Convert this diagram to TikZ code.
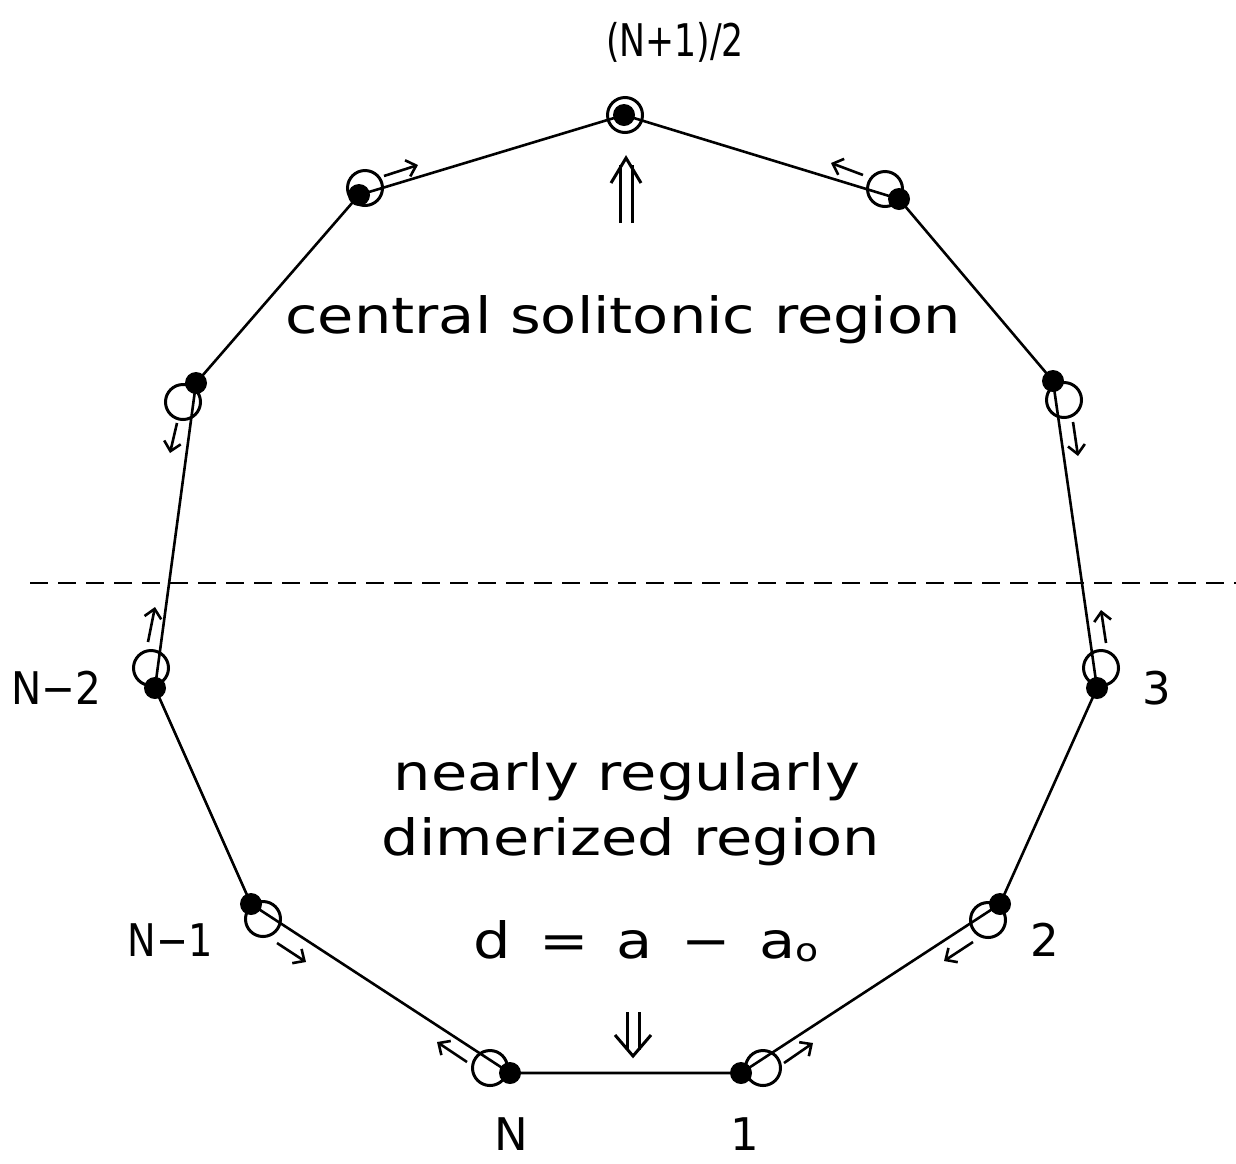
\documentclass[tikz,border=0pt]{standalone}
\usepackage{fontspec}
\setmainfont{DejaVu Sans}
\usetikzlibrary{arrows.meta}
\begin{document}
\begin{tikzpicture}[x=1pt,y=-1pt,
  site/.style={circle,fill=black,inner sep=0pt,minimum size=22pt},
  ring/.style={circle,draw=black,line width=3pt,inner sep=0pt,minimum size=35pt},
  bond/.style={line width=2.6pt},
  disp/.style={line width=2.6pt,-{Straight Barb[length=9pt,width=17pt,line width=2.6pt]}},
  dbl/.style={line width=3pt},
  bigtext/.style={font=\fontsize{50}{60}\selectfont, xscale=1.18, inner sep=0pt, anchor=base},
  lbl/.style={font=\fontsize{45}{52}\selectfont, inner sep=0pt, anchor=base}
]
\useasboundingbox (0,0) rectangle (1236,1163);
% undisplaced positions (regular polygon)
\node[ring] (r0) at (625,115) {};
\node[ring] (r1) at (365,188) {};
\node[ring] (r2) at (183,402) {};
\node[ring] (r3) at (151,668) {};
\node[ring] (r4) at (263,919) {};
\node[ring] (r5) at (490,1068) {};
\node[ring] (r6) at (763,1068) {};
\node[ring] (r7) at (988,920) {};
\node[ring] (r8) at (1101,668) {};
\node[ring] (r9) at (1064,400) {};
\node[ring] (r10) at (885,189) {};
% displaced sites
\coordinate (s0) at (624,115);
\coordinate (s1) at (359,195);
\coordinate (s2) at (196,383);
\coordinate (s3) at (155,688);
\coordinate (s4) at (251,904);
\coordinate (s5) at (510,1073);
\coordinate (s6) at (741,1073);
\coordinate (s7) at (1000,904);
\coordinate (s8) at (1097,688);
\coordinate (s9) at (1053,381);
\coordinate (s10) at (899,199);
\draw[bond] (s0) -- (s1) -- (s2) -- (s3) -- (s4) -- (s5) -- (s6) -- (s7) -- (s8) -- (s9) -- (s10) -- (s0);
\foreach \i in {0,...,10} {\node[site] (d\i) at (s\i) {};}
% displacement arrows
\coordinate (a1) at (384,176); \coordinate (b1) at (418,165);
\coordinate (a2) at (177,423); \coordinate (b2) at (170,453);
\coordinate (a3) at (148,642); \coordinate (b3) at (155,607);
\coordinate (a4) at (277,943); \coordinate (b4) at (306,962);
\coordinate (a5) at (467,1062); \coordinate (b5) at (437,1042);
\coordinate (a6) at (784,1063); \coordinate (b6) at (813,1043);
\coordinate (a7) at (973,942); \coordinate (b7) at (944,961);
\coordinate (a8) at (1106,643); \coordinate (b8) at (1101,610);
\coordinate (a9) at (1073,422); \coordinate (b9) at (1078,456);
\coordinate (a10) at (863,175); \coordinate (b10) at (831,163);
\foreach \i in {1,...,10} {\draw[disp] (a\i) -- (b\i);}
% double arrows
\draw[dbl] (620,223) -- (620,165) (632,223) -- (632,165);
\draw[dbl] (611,183) -- (626,158) -- (641,183);
\draw[dbl] (627,1012) -- (627,1050) (639,1012) -- (639,1050);
\draw[dbl] (615,1035) -- (633,1056) -- (651,1035);
% dashed line
\draw[line width=2pt, dash pattern=on 18pt off 10pt] (30,583) -- (1236,583);
% texts
\node[lbl, xscale=0.77] (t0) at (675,56) {(N+1)/2};
\node[lbl, xscale=0.9] (t3) at (56,704) {N−2};
\node[lbl, xscale=0.85] (t4) at (170,956) {N−1};
\node[lbl] (t5) at (511,1150) {N};
\node[lbl] (t6) at (745,1150) {1};
\node[lbl] (t7) at (1045,956) {2};
\node[lbl] (t8) at (1157,704) {3};
\node[bigtext] (c1) at (623,333) {central solitonic region};
\node[bigtext] (c2) at (627,790) {nearly regularly};
\node[bigtext] (c3) at (631,855) {dimerized region};
\node[bigtext, anchor=base west] (c4) at (473,958) {d\hspace{24pt}=\hspace{24pt}a\hspace{24pt}−\hspace{24pt}a\raisebox{-3pt}{\fontsize{32}{32}\selectfont o}};
\end{tikzpicture}
\end{document}
